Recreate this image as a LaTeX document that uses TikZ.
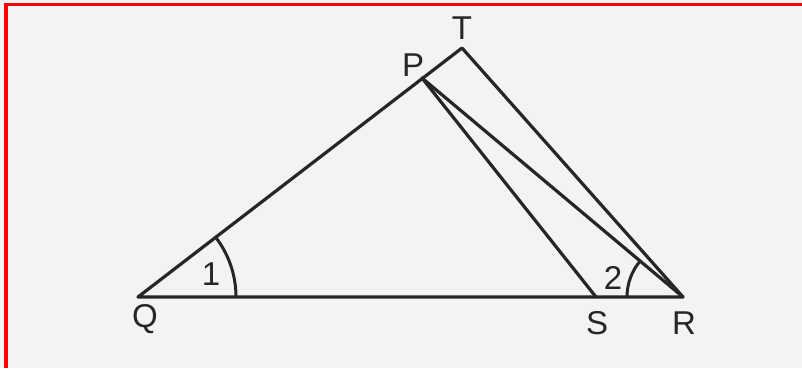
\documentclass[tikz,border=0pt]{standalone}
\usepackage{fontspec}
\setmainfont{Liberation Sans}
\definecolor{bg}{HTML}{F3F3F3}
\definecolor{ink}{HTML}{262626}
\definecolor{frame}{HTML}{FF0000}
\begin{document}
\begin{tikzpicture}[x=1pt,y=1pt,
  seg/.style={draw=ink,line width=3.2pt,line cap=round,line join=round},
  arcline/.style={draw=ink,line width=3pt},
  lbl/.style={text=ink,font=\fontsize{33}{33}\selectfont,inner sep=0pt}]
\useasboundingbox (0,0) rectangle (802,368);
\fill[bg] (0,0) rectangle (802,368);
\fill[frame] (4,362) rectangle (802,365.5);
\fill[frame] (4,0) rectangle (7.5,365.5);
\coordinate (Q) at (138,71);
\coordinate (S) at (596,71);
\coordinate (R) at (683,71);
\coordinate (P) at (422,290);
\coordinate (T) at (462,320);
\draw[seg] (Q) -- (T) -- (R) -- cycle;
\draw[seg] (P) -- (S);
\draw[seg] (P) -- (R);
\draw[arcline] ([shift={(98,0)}]Q) arc[start angle=0,end angle=37.6,radius=98];
\draw[arcline] ([shift={(-56,0)}]R) arc[start angle=180,end angle=140,radius=56];
\node[lbl] (lT) at (462,340) {T};
\node[lbl] (lP) at (413,303) {P};
\node[lbl] (lQ) at (145,49) {Q};
\node[lbl] (lS) at (597,45) {S};
\node[lbl] (lR) at (684,45) {R};
\node[lbl] (l1) at (211,94) {1};
\node[lbl] (l2) at (613,90) {2};
\end{tikzpicture}
\end{document}
